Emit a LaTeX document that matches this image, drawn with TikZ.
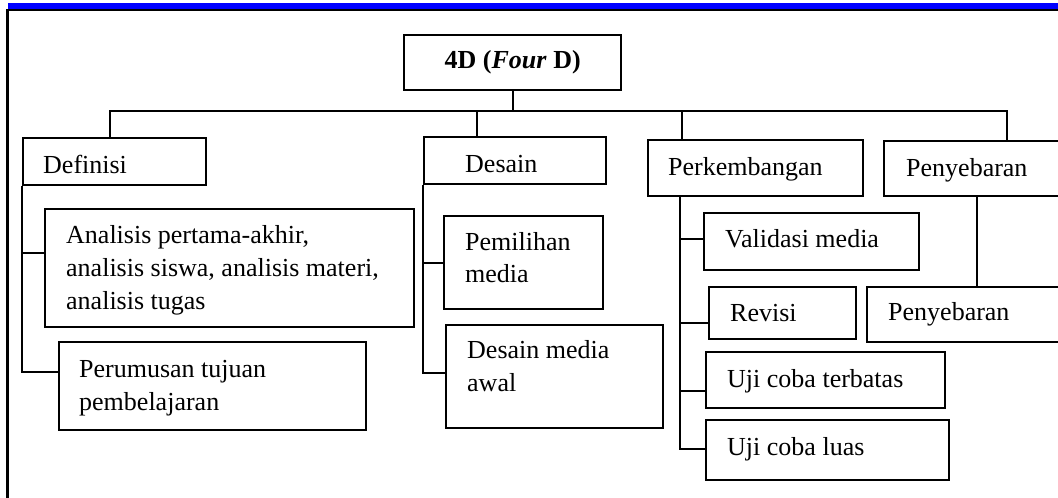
\documentclass[tikz,border=0pt]{standalone}
\usepackage{fontspec}
\setmainfont{Liberation Serif}
\begin{document}
\begin{tikzpicture}[x=1pt,y=-1pt,
  box/.style={draw, line width=2.4pt, inner sep=0pt, anchor=north west},
  txt/.style={anchor=base west, inner sep=0pt, font=\fontsize{26}{33}\selectfont},
  ln/.style={line width=2.4pt}]
\useasboundingbox (0,0) rectangle (1058,498);
% frame
\fill[blue] (8,3) rectangle (1058,8.5);
\draw[line width=2.4pt] (6.5,9.8) -- (1058,9.8);
\draw[line width=2.2pt] (7.5,9) -- (7.5,498);
% title
\node[box, minimum width=217pt, minimum height=55pt, font=\fontsize{26}{33}\selectfont] (title) at (403,34) {\textbf{4D (\textit{Four} D)}};
% level 1 boxes
\node[box, minimum width=183pt, minimum height=47pt] (def) at (22,137) {};
\node[box, minimum width=182pt, minimum height=47pt] (des) at (423,136) {};
\node[box, minimum width=215pt, minimum height=56pt] (perk) at (647,139) {};
\node[box, minimum width=182pt, minimum height=55pt] (peny) at (883,140) {};
\node[txt] (def-t) at (43,173) {Definisi};
\node[txt] (des-t) at (465,172) {Desain};
\node[txt] (perk-t) at (668,175) {Perkembangan};
\node[txt] (peny-t) at (906,176) {Penyebaran};
% Definisi children
\node[box, minimum width=369pt, minimum height=118pt] (an) at (44,208) {};
\node[txt] (an-1) at (66,243) {Analisis pertama-akhir,};
\node[txt] (an-2) at (66,276) {analisis siswa, analisis materi,};
\node[txt] (an-3) at (66,309) {analisis tugas};
\node[box, minimum width=307pt, minimum height=88pt] (pr) at (58,341) {};
\node[txt] (pr-1) at (79,377) {Perumusan tujuan};
\node[txt] (pr-2) at (79,410) {pembelajaran};
% Desain children
\node[box, minimum width=159pt, minimum height=93pt] (pm) at (443,215) {};
\node[txt] (pm-1) at (465,250) {Pemilihan};
\node[txt] (pm-2) at (465,282) {media};
\node[box, minimum width=217pt, minimum height=103pt] (dm) at (445,324) {};
\node[txt] (dm-1) at (467,358) {Desain media};
\node[txt] (dm-2) at (467,391) {awal};
% Perkembangan children
\node[box, minimum width=215pt, minimum height=57pt] (val) at (703,212) {};
\node[txt] (val-t) at (725,247) {Validasi media};
\node[box, minimum width=147pt, minimum height=52pt] (rev) at (708,286) {};
\node[txt] (rev-t) at (730,321) {Revisi};
\node[box, minimum width=239pt, minimum height=56pt] (ujt) at (705,351) {};
\node[txt] (ujt-t) at (727,387) {Uji coba terbatas};
\node[box, minimum width=243pt, minimum height=60pt] (ujl) at (705,419) {};
\node[txt] (ujl-t) at (727,455) {Uji coba luas};
% Penyebaran child
\node[box, minimum width=199pt, minimum height=55pt] (pen2) at (866,286) {};
\node[txt] (pen2-t) at (888,320) {Penyebaran};
% bus
\coordinate (b1) at (110,111);
\coordinate (b2) at (477,111);
\coordinate (b3) at (682,111);
\coordinate (b4) at (1007,111);
\draw[ln] (title.south) -- (title.south |- b1);
\draw[ln] (b1 |- def.north) -- (b1) -- (b4) -- (b4 |- peny.north);
\draw[ln] (b2) -- (b2 |- des.north);
\draw[ln] (b3) -- (b3 |- perk.north);
% Definisi connectors
\draw[ln] (def.south west) |- ([yshift=15pt]an.west);
\draw[ln] (def.south west) |- ([yshift=14pt]pr.west);
% Desain connectors
\draw[ln] (des.south west) |- (pm.west);
\draw[ln] (des.south west) |- ([yshift=3.5pt]dm.west);
% Perkembangan connectors
\coordinate (pv) at (680,0);
\draw[ln] (pv |- perk.south) |- ([yshift=2.5pt]val.west);
\draw[ln] (pv |- perk.south) |- ([yshift=-10pt]rev.west);
\draw[ln] (pv |- perk.south) |- ([yshift=-11pt]ujt.west);
\draw[ln] (pv |- perk.south) |- ([yshift=1pt]ujl.west);
% Penyebaran connector
\coordinate (qv) at (977,0);
\draw[ln] (qv |- peny.south) -- (qv |- pen2.north);
\end{tikzpicture}
\end{document}
